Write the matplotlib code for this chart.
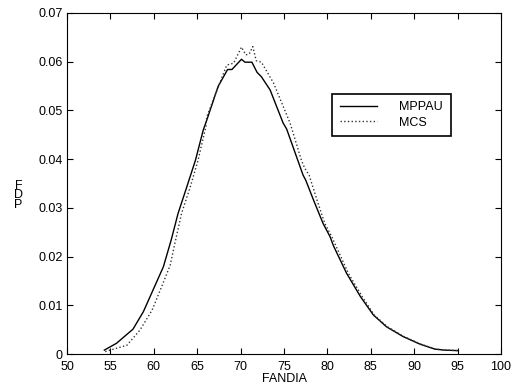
import numpy as np
import matplotlib
matplotlib.use("Agg")
import matplotlib.pyplot as plt

# data
x_mppau = [54.3, 55.7, 57.6, 58.8, 59.9, 61.1, 62.0, 62.8, 63.8, 64.8, 65.7, 66.1,
           67.4, 68.5, 69.0, 70.1, 70.5, 71.3, 71.9, 72.4, 73.4, 74.9, 75.3, 76.5,
           77.2, 77.5, 78.4, 79.5, 80.3, 80.7, 82.2, 83.8, 85.3, 86.8, 88.7, 90.7,
           92.4, 93.5, 95.0]
y_mppau = [0.0008, 0.0022, 0.0051, 0.0087, 0.0131, 0.0179, 0.0234, 0.0289, 0.0343,
           0.0398, 0.0460, 0.0480, 0.0549, 0.0584, 0.0584, 0.0605, 0.0599, 0.0599,
           0.0578, 0.0569, 0.0542, 0.0474, 0.0462, 0.0402, 0.0367, 0.0357, 0.0316,
           0.0268, 0.0241, 0.0222, 0.0166, 0.0118, 0.0080, 0.0056, 0.0036, 0.0020,
           0.0010, 0.0008, 0.0007]

x_mcs = [54.4, 56.9, 58.4, 59.8, 60.9, 61.9, 62.3, 63.2, 64.2, 65.1, 66.0, 66.1,
         68.4, 69.2, 70.1, 70.6, 71.0, 71.4, 71.8, 72.4, 73.8, 75.7, 77.0, 77.4,
         77.9, 78.8, 79.7, 80.5, 82.4, 84.0, 85.4, 86.9, 88.8, 90.8, 92.5, 93.6,
         95.0]
y_mcs = [0.0005, 0.0018, 0.0049, 0.0090, 0.0138, 0.0183, 0.0217, 0.0289, 0.0343,
         0.0398, 0.0467, 0.0487, 0.0593, 0.0597, 0.0630, 0.0614, 0.0616, 0.0631,
         0.0602, 0.0599, 0.0556, 0.0474, 0.0398, 0.0381, 0.0367, 0.0316, 0.0268,
         0.0241, 0.0166, 0.0118, 0.0080, 0.0056, 0.0036, 0.0020, 0.0010, 0.0008,
         0.0007]

plt.rcParams['font.family'] = ['Liberation Sans', 'DejaVu Sans']
plt.rcParams['font.size'] = 9

fig = plt.figure(figsize=(5.14, 3.91), dpi=100)
ax = fig.add_axes([0.1304, 0.0946, 0.8443, 0.8722])

ax.plot(x_mppau, y_mppau, '-', color='k', linewidth=1.0, label='MPPAU')
ax.plot(x_mcs, y_mcs, ':', color='#333333', linewidth=1.0, label='MCS')

ax.set_xlim(50, 100)
ax.set_ylim(0, 0.07)
ax.set_xticks(np.arange(50, 101, 5))
ax.set_yticks(np.arange(0, 0.0701, 0.01))
ax.set_yticklabels(['0', '0.01', '0.02', '0.03', '0.04', '0.05', '0.06', '0.07'])
ax.tick_params(direction='in', top=True, right=True, length=4, width=0.8)
ax.tick_params(axis='x', pad=5)
ax.tick_params(axis='y', pad=3)
for s in ax.spines.values():
    s.set_linewidth(0.8)

ax.set_xlabel('FANDIA', labelpad=0)
fig.text(0.036, 0.5, 'F\nD\nP', ha='center', va='center', linespacing=0.72)

leg = ax.legend(loc='upper left', bbox_to_anchor=(332 / 514, 1 - 94 / 391),
                bbox_transform=fig.transFigure, fancybox=False, edgecolor='k',
                framealpha=1, handlelength=3.0, handletextpad=1.8,
                borderpad=0.6, labelspacing=0.25, borderaxespad=0)
leg.get_frame().set_linewidth(1.2)

fig.savefig('out.png', dpi=100)
